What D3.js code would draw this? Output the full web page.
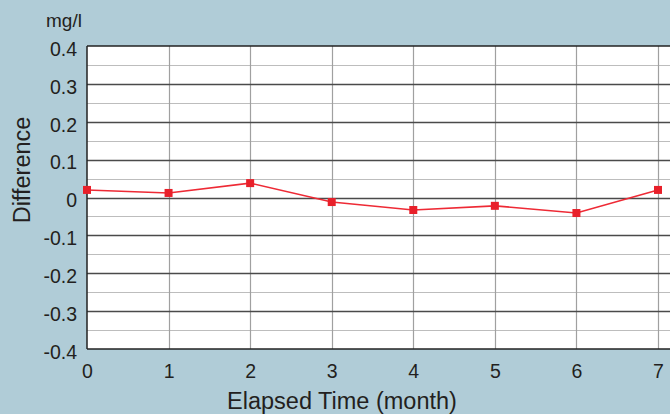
<!DOCTYPE html>
<html><head><meta charset="utf-8">
<script src="https://cdn.jsdelivr.net/npm/d3@7"></script>
<style>body{margin:0;background:#b0ccd7;}svg{display:block;font-family:"Liberation Sans",Arial,sans-serif;}</style>
</head><body><svg id="c" width="670" height="414"></svg>
<script>
const months = [0,1,2,3,4,5,6,7];
const diffValues = [0.020, 0.012, 0.038, -0.012, -0.033, -0.022, -0.041, 0.020];
const xTicks = [0,1,2,3,4,5,6,7];
const yTicks = [-0.4,-0.3,-0.2,-0.1,0,0.1,0.2,0.3,0.4];
const yMinor = [-0.35,-0.25,-0.15,-0.05,0.05,0.15,0.25,0.35];

const FONT = "Liberation Sans, Arial, sans-serif";
const svg = d3.select("#c");
svg.append("rect").attr("width",670).attr("height",414).attr("fill","#b0ccd7");
const L=87, T=46, B=349, R=670;
const x = d3.scaleLinear().domain([0,7]).range([L,658]);
const y = d3.scaleLinear().domain([-0.4,0.4]).range([B,T]);

svg.append("rect").attr("x",L).attr("y",T).attr("width",R-L).attr("height",B-T).attr("fill","#fff");
const g = svg.append("g");
g.selectAll(".mn").data(yMinor).enter().append("line")
  .attr("x1",L).attr("x2",R).attr("y1",d=>Math.round(y(d))+0.5).attr("y2",d=>Math.round(y(d))+0.5)
  .attr("stroke","#bdbdbd").attr("stroke-width",1.2);
g.selectAll(".vx").data(xTicks.slice(1)).enter().append("line")
  .attr("x1",d=>Math.round(x(d))+0.5).attr("x2",d=>Math.round(x(d))+0.5).attr("y1",T).attr("y2",B)
  .attr("stroke","#a0a0a0").attr("stroke-width",1.2);
g.selectAll(".mj").data(yTicks.slice(1,-1)).enter().append("line")
  .attr("x1",L).attr("x2",R).attr("y1",d=>Math.round(y(d))+0.5).attr("y2",d=>Math.round(y(d))+0.5)
  .attr("stroke","#4a4a4a").attr("stroke-width",1.3);
g.append("line").attr("x1",L).attr("x2",R).attr("y1",T).attr("y2",T).attr("stroke","#222").attr("stroke-width",1.5);
g.append("line").attr("x1",L).attr("x2",R).attr("y1",B).attr("y2",B).attr("stroke","#222").attr("stroke-width",1.5);
g.append("line").attr("x1",L).attr("x2",L).attr("y1",T).attr("y2",B).attr("stroke","#222").attr("stroke-width",1.5);

const yAxis = svg.append("g").attr("transform",`translate(${L},3)`)
  .call(d3.axisLeft(y).tickValues(yTicks).tickSize(0).tickPadding(10).tickFormat(d=>d===0?"0":d.toFixed(1)));
yAxis.select(".domain").remove();
yAxis.attr("font-family",FONT).attr("font-size",19.5);
yAxis.selectAll("text").attr("fill","#231f20");
const xAxis = svg.append("g").attr("transform",`translate(0,${B})`)
  .call(d3.axisBottom(x).tickValues(xTicks).tickSize(0).tickPadding(15).tickFormat(d3.format("d")));
xAxis.select(".domain").remove();
xAxis.attr("font-family",FONT).attr("font-size",19.5);
xAxis.selectAll("text").attr("fill","#231f20");

svg.append("text").attr("x",46).attr("y",27).attr("font-size",19).attr("fill","#231f20").text("mg/l");
svg.append("text").attr("transform","translate(30,170) rotate(-90)").attr("text-anchor","middle")
  .attr("font-size",23.5).attr("fill","#231f20").text("Difference");
svg.append("text").attr("x",342).attr("y",409).attr("text-anchor","middle")
  .attr("font-size",23.5).attr("fill","#231f20").text("Elapsed Time (month)");

const line = d3.line().x((d,i)=>x(months[i])).y(d=>y(d));
svg.append("path").datum(diffValues).attr("d",line).attr("fill","none").attr("stroke","#ee2a35").attr("stroke-width",1.6);
svg.selectAll(".mk").data(diffValues).enter().append("rect")
  .attr("x",(d,i)=>x(months[i])-4).attr("y",d=>y(d)-4).attr("width",8).attr("height",8).attr("fill","#e8202a");
</script></body></html>
